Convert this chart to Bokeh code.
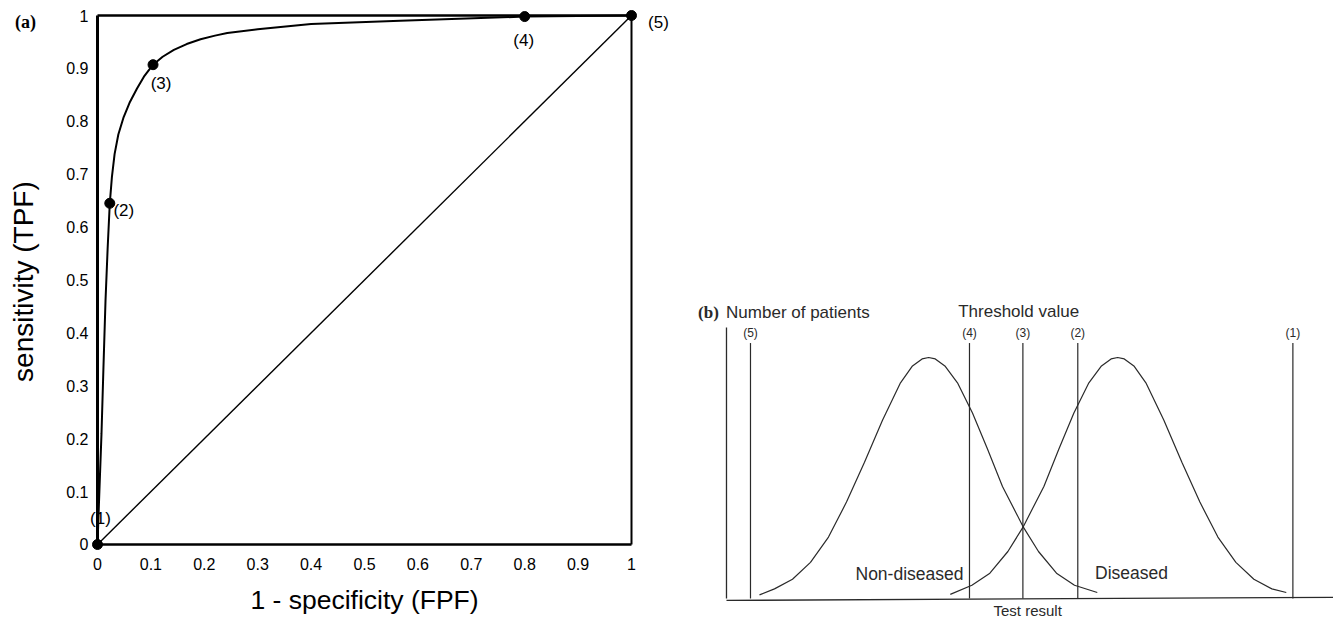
from math import pi
from bokeh.plotting import figure
from bokeh.models import Range1d, FixedTicker, LinearAxis, ColumnDataSource
from bokeh.embed import file_html
from bokeh.resources import INLINE
from bokeh.core.properties import value

# ---------------- Panel (a): ROC curve ----------------
roc_fpf = [0.0, 0.0035, 0.0075, 0.011, 0.015, 0.019, 0.023, 0.027, 0.032, 0.039, 0.049, 0.060,
           0.074, 0.088, 0.104, 0.122, 0.143, 0.167, 0.193, 0.22, 0.243, 0.30, 0.40, 0.567, 0.80, 1.0]
roc_tpf = [0.0, 0.10, 0.21, 0.33, 0.461, 0.56, 0.645, 0.695, 0.738, 0.775, 0.808, 0.835,
           0.862, 0.886, 0.907, 0.922, 0.935, 0.946, 0.955, 0.962, 0.967, 0.974, 0.984, 0.990, 0.998, 1.0]

op_fpf = [0.0, 0.023, 0.104, 0.80, 1.0]
op_tpf = [0.0, 0.645, 0.907, 0.998, 1.0]
op_labels = ["(1)", "(2)", "(3)", "(4)", "(5)"]
op_dx = [3, 14, 8, -1, 27]
op_dy = [-26, 7, 19, 24, 7]

chance_x = [0.0, 1.0]
chance_y = [0.0, 1.0]

box_x0 = [0.0, 0.0, 1.0, 0.0]
box_y0 = [0.0, 1.0, 0.0, 0.0]
box_x1 = [0.0, 1.0, 1.0, 1.0]
box_y1 = [1.0, 1.0, 1.0, 0.0]
box_w = [3.0, 2.5, 2.0, 2.5]

ticks = [0, 0.1, 0.2, 0.3, 0.4, 0.5, 0.6, 0.7, 0.8, 0.9, 1]
x_title = "1 - specificity (FPF)"
y_title = "sensitivity (TPF)"
panel_a = "(a)"

# ---------------- Panel (b): distributions ----------------
nd_x = [5.5, 8.0, 11.0, 14.0, 17.0, 20.0, 23.0, 26.0, 29.0, 31.0, 32.6, 33.7, 34.8, 36.4, 38.5,
        41.0, 43.5, 46.0, 49.5, 52.0, 55.0, 58.0, 61.8]
nd_y = [1.5, 4.0, 8.0, 15.0, 25.5, 40.0, 56.5, 74.0, 89.5, 96.5, 99.4, 100.0, 99.4, 96.5, 89.5,
        77.0, 62.0, 46.5, 29.5, 19.5, 10.5, 5.5, 2.5]
d_x = [37.3, 40.9, 43.9, 46.9, 49.4, 52.9, 55.4, 57.9, 60.4, 62.5, 64.1, 65.2, 66.3, 67.9, 69.9,
       72.9, 75.9, 78.9, 81.9, 84.9, 87.9, 90.9, 93.3]
d_y = [1.7, 5.5, 10.5, 19.5, 29.5, 46.5, 62.0, 77.0, 89.5, 96.5, 99.4, 100.0, 99.4, 96.5, 89.5,
       74.0, 56.5, 40.0, 25.5, 15.0, 8.0, 4.0, 2.5]

thr_x = [4.0, 40.5, 49.4, 58.55, 94.4]
thr_labels = ["(5)", "(4)", "(3)", "(2)", "(1)"]
thr_top = 106.0
thr_label_y = 110.0

axis_top = 112.4
base_x = [0.0, 101.2]
base_y = [-0.8, 0.5]

txt = ["Number of patients", "Threshold value", "Non-diseased", "Diseased", "Test result"]
txt_x = [11.9, 48.7, 30.5, 67.5, 50.2]
txt_y = [118.7, 119.1, 10.0, 10.4, -5.0]
txt_size = ["17px", "17px", "17.5px", "17.5px", "15px"]
panel_b = "(b)"

FONT = "Liberation Sans"
SERIF = "Liberation Serif"
INK = "#2a2a2a"

p = figure(width=1333, height=620,
           x_range=Range1d(-0.18165, 2.31461), y_range=Range1d(-0.14367, 1.02836),
           x_axis_location=None, y_axis_location=None, min_border=0,
           output_backend="svg", toolbar_location=None)
p.extra_x_ranges = {"b": Range1d(-121.0, 101.17)}
p.extra_y_ranges = {"b": Range1d(-9.129, 248.13)}
p.grid.visible = False
p.outline_line_color = None

xa = LinearAxis(fixed_location=0, ticker=FixedTicker(ticks=ticks))
ya = LinearAxis(fixed_location=0, ticker=FixedTicker(ticks=ticks))
for ax in (xa, ya):
    ax.major_label_overrides = {0: "0", 1: "1"}
    ax.axis_line_color = None
    ax.major_tick_line_color = None
    ax.minor_tick_line_color = None
    ax.major_tick_out = 0
    ax.major_tick_in = 0
    ax.major_label_text_font = FONT
    ax.major_label_text_font_size = "16px"
    ax.major_label_text_color = "black"
xa.major_label_standoff = 14
ya.major_label_standoff = 9
p.add_layout(xa, "below")
p.add_layout(ya, "left")

# panel (a) marks
p.segment(x0=box_x0, y0=box_y0, x1=box_x1, y1=box_y1, line_color="black", line_width=box_w)
p.line(chance_x, chance_y, line_color="black", line_width=1.4)
p.line(roc_fpf, roc_tpf, line_color="black", line_width=2)
p.scatter(op_fpf, op_tpf, size=10, color="black")
op_src = ColumnDataSource(dict(x=op_fpf, y=op_tpf, t=op_labels, dx=op_dx, dy=op_dy))
p.text(x="x", y="y", text="t", x_offset="dx", y_offset="dy", source=op_src,
       text_font=value(FONT), text_font_size="17px", text_color="black",
       text_align="center", text_baseline="middle")
p.text(x=[0.5], y=[-0.104], text=[x_title], text_font=value(FONT), text_font_size="26.5px",
       text_color="black", text_align="center", text_baseline="middle")
p.text(x=[-0.139], y=[0.497], text=[y_title], angle=pi / 2, text_font=value(FONT),
       text_font_size="28px", text_color="black", text_align="center", text_baseline="middle")
p.text(x=[-0.1348], y=[0.9877], text=[panel_a], text_font=value(SERIF), text_font_size="18px",
       text_font_style="bold", text_color="black", text_align="center", text_baseline="middle")

# panel (b) marks
B = dict(x_range_name="b", y_range_name="b")
p.segment(x0=[0.0], y0=[0.0], x1=[0.0], y1=[axis_top], line_color=INK, line_width=1.3, **B)
p.line(base_x, base_y, line_color=INK, line_width=1.3, **B)
p.segment(x0=thr_x, y0=[0.0] * len(thr_x), x1=thr_x, y1=[thr_top] * len(thr_x),
          line_color=INK, line_width=1.2, **B)
p.line(nd_x, nd_y, line_color=INK, line_width=1.2, **B)
p.line(d_x, d_y, line_color=INK, line_width=1.2, **B)
p.text(x=thr_x, y=[thr_label_y] * len(thr_x), text=thr_labels, text_font=value(FONT),
       text_font_size="12px", text_color=INK, text_align="center", text_baseline="middle", **B)
p.text(x=txt_x, y=txt_y, text=txt, text_font=value(FONT), text_font_size=txt_size,
       text_color=INK, text_align="center", text_baseline="middle", **B)
p.text(x=[-3.0], y=[118.7], text=[panel_b], text_font=value(SERIF), text_font_size="17px",
       text_font_style="bold", text_color=INK, text_align="center", text_baseline="middle", **B)

open("out.html", "w").write(file_html(p, INLINE))
